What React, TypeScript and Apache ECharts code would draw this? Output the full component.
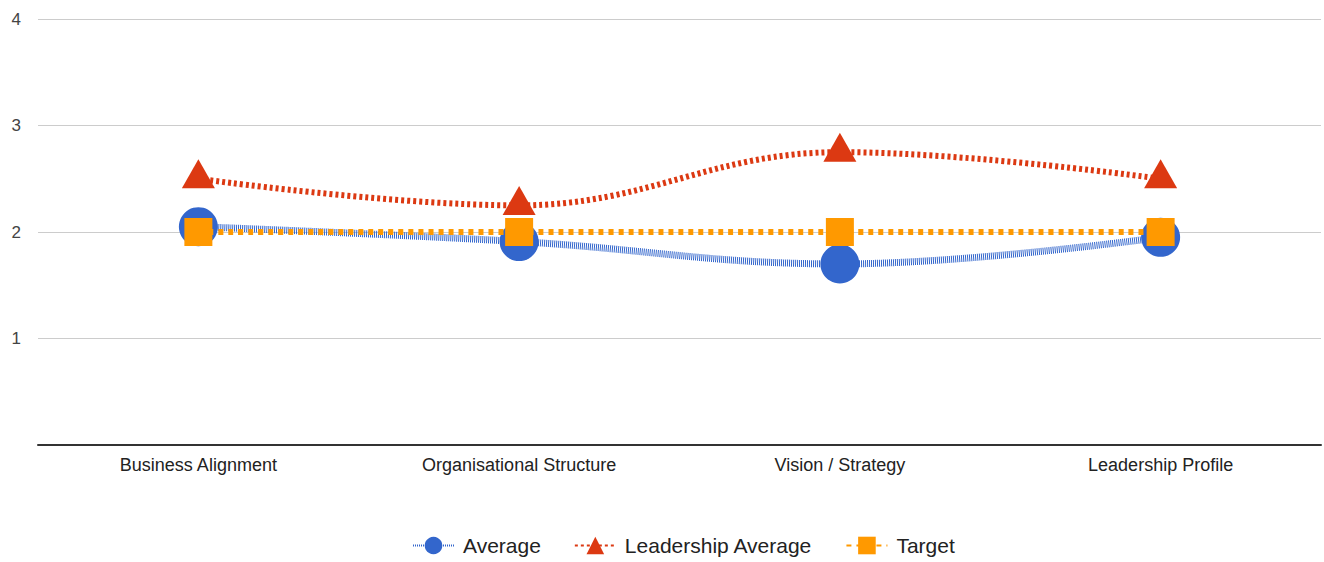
import React, { useEffect, useRef } from "react";
import * as echarts from "echarts";

const categories = ["Business Alignment", "Organisational Structure", "Vision / Strategy", "Leadership Profile"];
const averageValues = [2.05, 1.91, 1.7, 1.95];
const leadershipValues = [2.5, 2.25, 2.75, 2.5];
const targetValues = [2, 2, 2, 2];
const yTicks = [0, 1, 2, 3, 4];

export default function App() {
  const ref = useRef<HTMLDivElement>(null);
  useEffect(() => {
    const chart = echarts.init(ref.current!, null, { renderer: "svg" });
    const font = "Arial, 'Liberation Sans', sans-serif";
    chart.setOption({
      animation: false,
      textStyle: { fontFamily: font },
      grid: { left: 38, right: 3, top: 19, bottom: 117, containLabel: false },
      xAxis: {
        type: "category",
        data: categories,
        boundaryGap: true,
        axisLine: { lineStyle: { color: "#333", width: 2 } },
        axisTick: { show: false },
        axisLabel: { color: "#222", fontSize: 18, margin: 11, fontFamily: font },
      },
      yAxis: {
        type: "value",
        min: yTicks[0],
        max: yTicks[yTicks.length - 1],
        interval: 1,
        axisLine: { show: false },
        axisTick: { show: false },
        splitLine: { lineStyle: { color: "#ccc", width: 1 } },
        axisLabel: {
          color: "#444",
          fontSize: 17,
          margin: 17,
          fontFamily: font,
          formatter: (v: number) => (v === 0 ? "" : String(v)),
        },
      },
      legend: {
        top: 530,
        left: 407,
        itemWidth: 41,
        itemHeight: 22,
        itemGap: 33,
        textStyle: { color: "#222", fontSize: 21, fontFamily: font, padding: [0, 0, 0, 4] },
        data: ["Average", "Leadership Average", "Target"],
      },
      series: [
        {
          name: "Average",
          type: "line",
          data: averageValues,
          smooth: 0.4,
          symbol: "circle",
          symbolSize: 39,
          itemStyle: { color: "#3366cc" },
          lineStyle: { color: "#3366cc", width: 7, type: [1, 1] },
          z: 2,
        },
        {
          name: "Leadership Average",
          type: "line",
          data: leadershipValues,
          smooth: 0.4,
          symbol: "triangle",
          symbolSize: [33, 29],
          symbolOffset: [0, -5],
          itemStyle: { color: "#dc3912" },
          lineStyle: { color: "#dc3912", width: 6, type: [3, 3] },
          z: 3,
        },
        {
          name: "Target",
          type: "line",
          data: targetValues,
          smooth: 0.4,
          symbol: "rect",
          symbolSize: 28,
          itemStyle: { color: "#ff9900" },
          lineStyle: { color: "#ff9900", width: 6, type: [5, 5] },
          z: 4,
        },
      ],
    });
    return () => chart.dispose();
  }, []);
  return <div ref={ref} style={{ width: 1324, height: 562, position: "absolute", left: 0, top: 0 }} />;
}
